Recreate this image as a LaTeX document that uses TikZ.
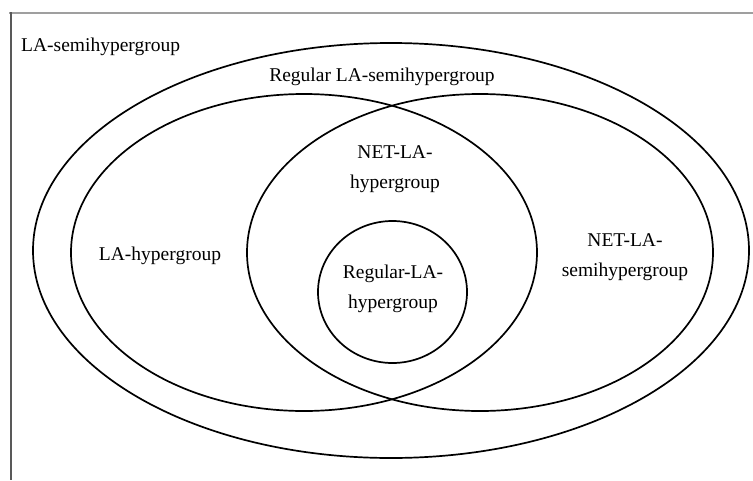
\documentclass[tikz,border=0pt]{standalone}
\usepackage{fontspec}
\setmainfont{Liberation Serif}
\usetikzlibrary{shapes.geometric}
\begin{document}
\begin{tikzpicture}[x=1pt,y=-1pt,
  setshape/.style={draw=black, line width=1.7pt, shape=ellipse, inner sep=0pt, outer sep=0pt},
  lbl/.style={font=\fontsize{19.5}{30}\selectfont, align=center, inner sep=0pt}]
\useasboundingbox (0,0) rectangle (753,480);
% frame
\draw[gray!75, line width=2.2pt] (9,13) -- (753,13);
\draw[black!65, line width=1.6pt] (11,12) -- (11,480);
% sets
\node[setshape, minimum width=716pt, minimum height=415pt] (outer) at (391,250.5) {};
\node[setshape, minimum width=466pt, minimum height=317pt] (left) at (304,252.5) {};
\node[setshape, minimum width=466pt, minimum height=317pt] (right) at (480,252.5) {};
\node[setshape, minimum width=149pt, minimum height=142pt] (small) at (392.5,292) {};
% labels
\node[lbl, anchor=west] (tOuter) at (21,47) {LA-semihypergroup};
\node[lbl] (tReg) at (382,77) {Regular LA-semihypergroup};
\node[lbl] (tLeft) at (160,256) {LA-hypergroup};
\node[lbl] (tRight) at (625,257) {NET-LA-\\semihypergroup};
\node[lbl] (tMid) at (395,169) {NET-LA-\\hypergroup};
\node[lbl] (tSmall) at (393,289) {Regular-LA-\\hypergroup};
\end{tikzpicture}
\end{document}
